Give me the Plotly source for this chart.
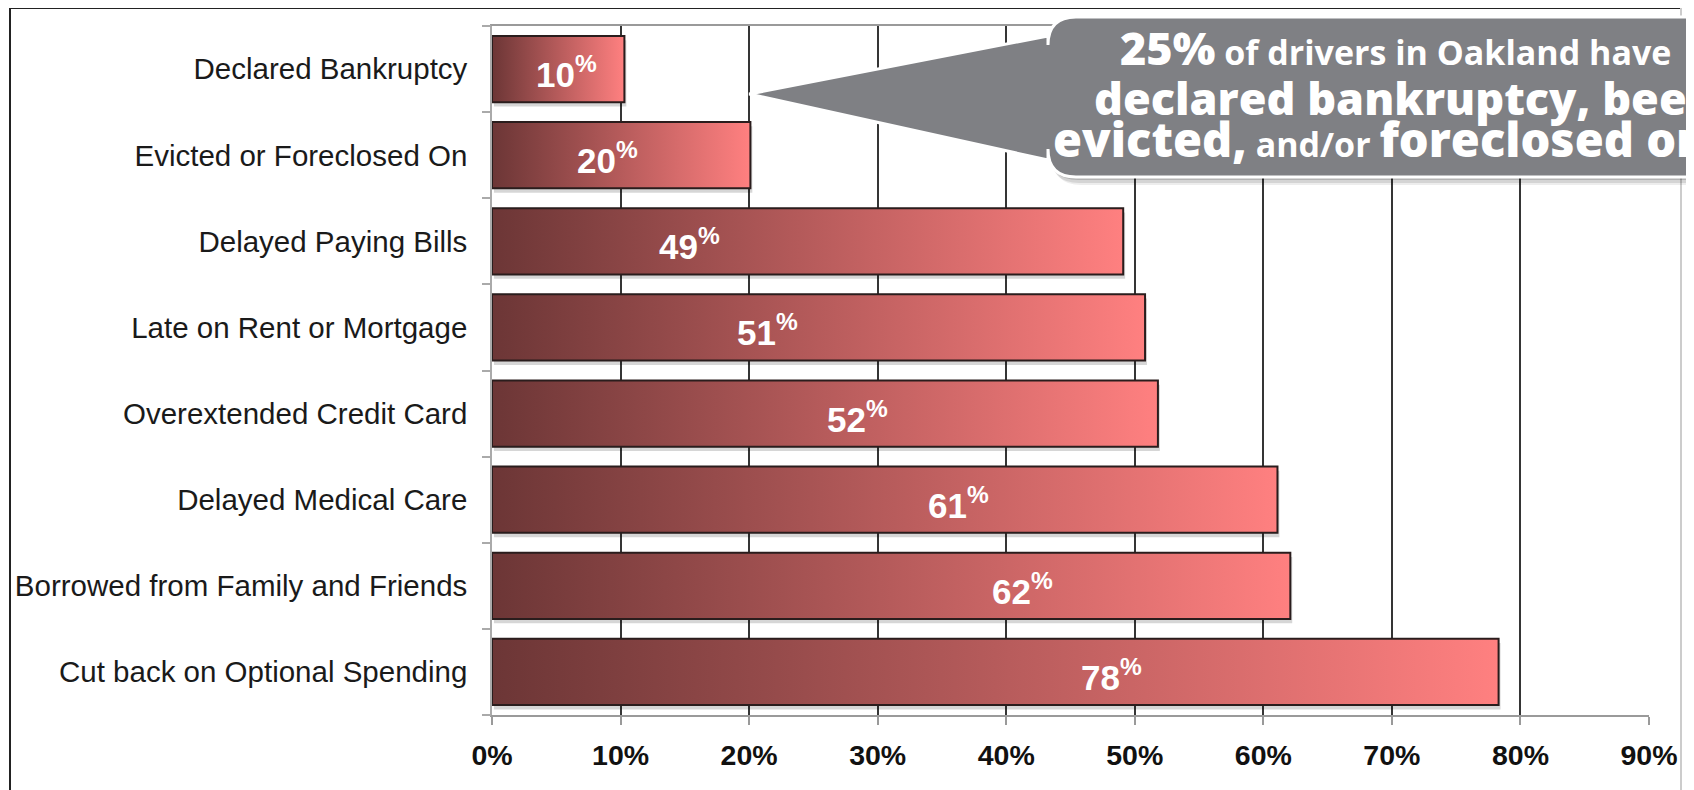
import plotly.graph_objects as go

# ---------------- data ----------------
categories = [
    "Declared Bankruptcy",
    "Evicted or Foreclosed On",
    "Delayed Paying Bills",
    "Late on Rent or Mortgage",
    "Overextended Credit Card",
    "Delayed Medical Care",
    "Borrowed from Family and Friends",
    "Cut back on Optional Spending",
]
values = [10.3, 20.1, 49.1, 50.8, 51.8, 61.1, 62.1, 78.3]
value_labels = ["10", "20", "49", "51", "52", "61", "62", "78"]
label_x = [5.8, 9.0, 15.4, 21.4, 28.4, 36.3, 41.3, 48.2]
x_ticks = [0, 10, 20, 30, 40, 50, 60, 70, 80, 90]
x_tick_text = ["0%", "10%", "20%", "30%", "40%", "50%", "60%", "70%", "80%", "90%"]
callout_pointer = (20, 0.29)  # data position the callout points at

# ---------------- geometry (screen pixels, page has 8px body margin) ----------------
W, H = 1694, 790
OFF = 8
PX0, PX1, PY0, PY1 = 492, 1649, 26, 715          # plot area on screen
ML, MR = PX0 - OFF, W - (PX1 - OFF)
MT, MB = PY0 - OFF, H - (PY1 - OFF)
PW = PX1 - PX0
PH = PY1 - PY0


def px(x):
    return (x - PX0) / PW


def py(y):
    return (PY1 - y) / PH


HALF = 0.385
SANS = "Liberation Sans, Arial, Helvetica, sans-serif"
HEAVY = "Open Sans, Liberation Sans, Arial, sans-serif"

fig = go.Figure()

# bar shadows + gradient bars
for i, v in enumerate(values):
    fig.add_trace(go.Scatter(
        x=[0.15, v + 0.15, v + 0.15, 0.15, 0.15],
        y=[i - HALF + 0.05, i - HALF + 0.05, i + HALF + 0.05, i + HALF + 0.05, i - HALF + 0.05],
        mode="lines", fill="toself", fillcolor="rgba(0,0,0,0.16)",
        line=dict(width=0), hoverinfo="skip", showlegend=False,
    ))
for i, v in enumerate(values):
    fig.add_trace(go.Scatter(
        x=[0, v, v, 0, 0],
        y=[i - HALF, i - HALF, i + HALF, i + HALF, i - HALF],
        mode="lines", fill="toself",
        fillgradient=dict(type="horizontal",
                          colorscale=[[0, "#6c3636"], [0.5, "#b65b5b"], [1, "#ff8080"]],
                          start=0, stop=v),
        line=dict(color="#2a1d1d", width=2),
        hoverinfo="skip", showlegend=False,
    ))

# helper trace for boundary ticks axis
fig.add_trace(go.Scatter(x=[None], y=[None], yaxis="y2", showlegend=False, hoverinfo="skip"))

# bar value labels
for i, (lx, lab) in enumerate(zip(label_x, value_labels)):
    fig.add_annotation(
        x=lx, y=i, xref="x", yref="y", showarrow=False, yshift=-3,
        text=f"{lab}<sup>%</sup>",
        font=dict(family=SANS, size=35, color="white", weight="bold"),
    )

# ---------------- frame ----------------
frame = [
    (10, 8, 10, 800, "#222222", 2),
    (10, 8, 1681, 8, "#222222", 2),
    (1681, 8, 1681, 800, "#cccccc", 2),
]
for x0, y0, x1, y1, c, w in frame:
    fig.add_shape(type="line", xref="paper", yref="paper",
                  x0=px(x0), y0=py(y0), x1=px(x1), y1=py(y1),
                  line=dict(color=c, width=w))

# ---------------- callout ----------------
tip_px = PX0 + callout_pointer[0] / 90 * PW
tip_py = PY0 + (callout_pointer[1] + 0.5) / 8 * PH
L, T, B, R, r = 1048, 17, 177, 1760, 28
bt, bb = 36, 160


def box_path(dx=0, dy=0, pointer=True):
    def p(x, y):
        return f"{px(x + dx)},{py(y + dy)}"
    s = ""
    if pointer:
        s += f"M {p(tip_px, tip_py)} L {p(L, bt)} "
        s += f"L {p(L, T + r)} "
    else:
        s += f"M {p(L, T + r)} "
    s += f"Q {p(L, T)} {p(L + r, T)} L {p(R - r, T)} Q {p(R, T)} {p(R, T + r)} "
    s += f"L {p(R, B - r)} Q {p(R, B)} {p(R - r, B)} L {p(L + r, B)} Q {p(L, B)} {p(L, B - r)} "
    if pointer:
        s += f"L {p(L, bb)} Z"
    else:
        s += "Z"
    return s


for dx, dy, a in [(5, 8, 0.07), (3, 6, 0.10), (2, 3, 0.16)]:
    fig.add_shape(type="path", xref="paper", yref="paper", path=box_path(dx, dy, False),
                  fillcolor=f"rgba(0,0,0,{a})", line=dict(width=0), layer="above")
fig.add_shape(type="path", xref="paper", yref="paper", path=box_path(),
              fillcolor="#7f8084", line=dict(color="white", width=3), layer="above")

heavy = f"font-family:{HEAVY};font-weight:800"
cond = f"font-family:{HEAVY};font-weight:700"
lines = [
    (1118, 47, f"<span style='{heavy};font-size:45px'>25%</span>"
               f"<span style='{cond};font-size:34px'> of drivers in Oakland have</span>"),
    (1092, 98, f"<span style='{heavy};font-size:45px'>declared bankruptcy, been</span>"),
    (1051, 139, f"<span style='{heavy};font-size:47px'>evicted,</span>"
                f"<span style='{cond};font-size:34px'> and/or </span>"
                f"<span style='{heavy};font-size:47px'>foreclosed on</span>"),
]
for lx, ly, txt in lines:
    fig.add_annotation(x=px(lx), y=py(ly), xref="paper", yref="paper",
                       xanchor="left", yanchor="middle", showarrow=False,
                       text=txt, font=dict(color="white", size=30, family=HEAVY))

# ---------------- layout ----------------
fig.update_layout(
    width=W, height=H,
    margin=dict(l=ML, r=MR, t=MT, b=MB, pad=0),
    paper_bgcolor="white", plot_bgcolor="white",
    showlegend=False,
    xaxis=dict(
        range=[0, 90], tickvals=x_ticks, ticktext=x_tick_text, automargin=False,
        showgrid=True, gridcolor="#353535", gridwidth=2,
        zeroline=False, showline=True, linecolor="#9a9a9a", linewidth=1.5, mirror=True,
        ticks="outside", ticklen=8, tickwidth=2, tickcolor="#9a9a9a",
        tickfont=dict(family=SANS, size=28.5, color="#111111", weight="bold"),
        ticklabelstandoff=6, fixedrange=True,
    ),
    yaxis=dict(
        range=[7.5, -0.5], tickvals=list(range(len(categories))), ticktext=categories,
        automargin=False,
        showgrid=False, zeroline=False, showline=True, linecolor="#aaaaaa", linewidth=1.5,
        ticks="", tickfont=dict(family=SANS, size=29.5, color="#1a1a1a"),
        ticklabelstandoff=17, fixedrange=True,
    ),
    yaxis2=dict(
        overlaying="y", side="left", range=[7.5, -0.5], automargin=False,
        tickvals=[i - 0.5 for i in range(len(categories) + 1)],
        showticklabels=False, ticks="outside", ticklen=9, tickwidth=1.5, tickcolor="#aaaaaa",
        showgrid=False, zeroline=False, showline=False, fixedrange=True,
    ),
)

fig.write_html("out.html", config={"displayModeBar": False})
